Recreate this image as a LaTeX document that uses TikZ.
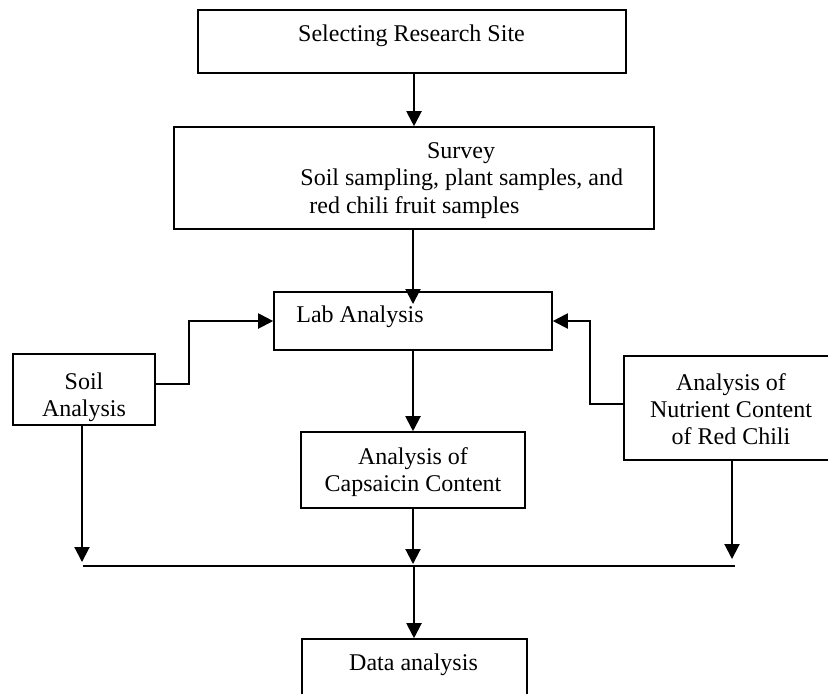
\documentclass[tikz,border=0pt]{standalone}
\usepackage{fontspec}
\setmainfont{Liberation Serif}
\usetikzlibrary{arrows.meta,calc}
\begin{document}
\begin{tikzpicture}[x=0.5pt,y=-0.5pt,
  box/.style={draw,line width=0.8pt,inner sep=0pt,rectangle},
  txt/.style={inner sep=0pt,font=\fontsize{12}{13.6}\selectfont,align=center},
  one/.style={txt,text height=8pt,text depth=2.6pt},
  arr/.style={line width=1pt,-{Triangle[length=7.5pt,width=7.5pt]}},
  ln/.style={line width=1pt}]
\useasboundingbox (0,0) rectangle (828,693);
\clip (0,0) rectangle (828,693);
\fill[white] (0,0) rectangle (828,693);
% boxes
\node[box,minimum width=214pt,minimum height=31.5pt] (b1) at (412,41.5) {};
\node[box,minimum width=240pt,minimum height=51pt] (b2) at (414,178) {};
\node[box,minimum width=139pt,minimum height=29pt] (lab) at (413,321) {};
\node[box,minimum width=71pt,minimum height=35.5pt] (soil) at (84,389.5) {};
\node[box,minimum width=107pt,minimum height=52pt] (nut) at (731,408) {};
\node[box,minimum width=112pt,minimum height=38pt] (caps) at (413,470) {};
\node[box,minimum width=112.5pt,minimum height=45pt] (data) at (414.5,684) {};
% texts
\node[one] (t1) at (411.5,36) {Selecting Research Site};
\node[one] (t2a) at (461,153) {Survey};
\node[one,anchor=west] (t2b) at (300,180) {Soil sampling, plant samples, and};
\node[one,anchor=west] (t2c) at (309,208) {red chili fruit samples};
\node[one,anchor=west] (t3) at (296,317) {Lab Analysis};
\node[txt] (t4) at (84,397) {Soil\\Analysis};
\node[txt] (t5) at (731,409) {Analysis of\\Nutrient Content\\of Red Chili};
\node[txt] (t6) at (413,472) {Analysis of\\Capsaicin Content};
\node[one] (t7) at (413.5,665) {Data analysis};
% connectors
\coordinate (busL) at (83,566);
\coordinate (busR) at (735,566);
\coordinate (busM) at (414,566);
\coordinate (soilEnd) at (82,562);
\coordinate (nutEnd) at (732,559);
\coordinate (capsEnd) at (413,564);
\coordinate (labIn) at (413,304);
\draw[arr] (b1.south -| b2) -- (b2.north);
\draw[arr] (b2.south -| labIn) -- (labIn);
\draw[arr] ([yshift=3pt]soil.east) -- ++(33,0) |- (lab.west);
\draw[arr] ([yshift=2pt]nut.west) -- ++(-33,0) |- (lab.east);
\draw[arr] (lab.south -| capsEnd) -- (caps.north -| capsEnd);
\draw[ln] (busL) -- (busR);
\draw[arr] (soil.south -| soilEnd) -- (soilEnd);
\draw[arr] (nut.south -| nutEnd) -- (nutEnd);
\draw[arr] (caps.south -| capsEnd) -- (capsEnd);
\draw[arr] (busM) -- (data.north -| busM);
\end{tikzpicture}
\end{document}
